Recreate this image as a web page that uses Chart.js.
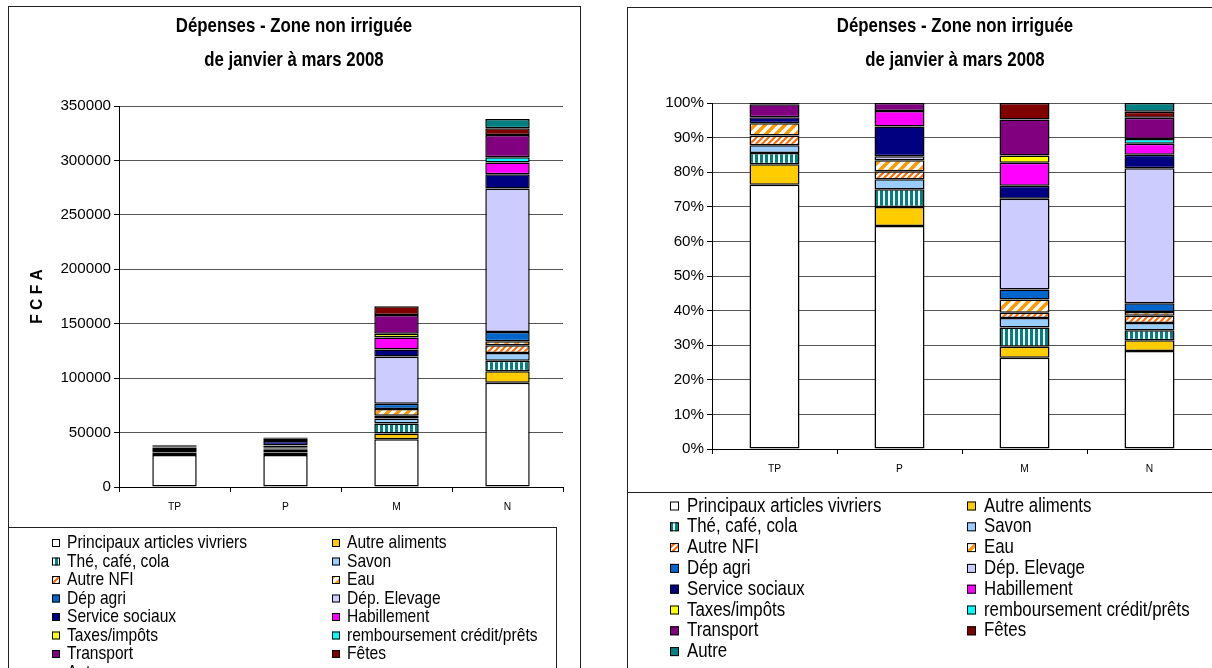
<!DOCTYPE html>
<html>
<head>
<meta charset="utf-8">
<script src="https://cdn.jsdelivr.net/npm/chart.js@4/dist/chart.umd.min.js"></script>
<style>
  html, body { margin: 0; padding: 0; background: #fff; width: 1212px; height: 668px; overflow: hidden; }
  canvas { position: absolute; top: 0; }
  #left { left: 0; }
  #right { left: 600px; }
</style>
</head>
<body>
<canvas id="left" width="600" height="668"></canvas>
<canvas id="right" width="612" height="668"></canvas>
<script>
// data, FCFA
const categories = ['TP', 'P', 'M', 'N'];
const principaux     = [29500, 29300, 43800, 95800];
const autreAliments  = [2270, 2500, 5300, 10460];
const theCafeCola    = [1270, 2320, 9130, 9790];
const savon          = [850, 1320, 4650, 7090];
const autreNFI       = [1080, 1050, 2490, 7090];
const eau            = [1390, 1460, 6310, 3710];
const depAgri        = [0, 0, 4810, 8440];
const depElevage     = [0, 500, 43500, 131800];
const serviceSociaux = [650, 3910, 6310, 13160];
const habillement    = [0, 2050, 10960, 10800];
const taxes          = [0, 0, 3490, 0];
const remboursement  = [0, 0, 0, 4730];
const transport      = [1450, 1050, 17260, 20590];
const fetes          = [150, 0, 7970, 6080];
const autre          = [0, 0, 0, 8440];

const titleLines = ['Dépenses - Zone non irriguée', 'de janvier à mars 2008'];

// font check: narrow face installed?
function hasFont(name) {
  const g = document.createElement('canvas').getContext('2d');
  g.font = '20px monospace';
  const a = g.measureText('Principaux articles vivriers').width;
  g.font = '20px "' + name + '", monospace';
  return g.measureText('Principaux articles vivriers').width !== a;
}
const NARROW = hasFont('Liberation Sans Narrow');
const FAMILY = NARROW ? '"Liberation Sans Narrow"' : '"Liberation Sans"';
const K = NARROW ? 1 : 0.82;

function drawText(ctx, text, x, y, size, bold, align) {
  ctx.save();
  ctx.fillStyle = '#000';
  ctx.textBaseline = 'middle';
  ctx.textAlign = align;
  ctx.translate(x, y);
  if (!NARROW) ctx.scale(0.82, 1);
  ctx.font = (bold ? 'bold ' : '') + size + 'px ' + FAMILY;
  ctx.fillText(text, 0, 0);
  ctx.restore();
}

function stripes(kind, color) {
  const c = document.createElement('canvas');
  const g = c.getContext('2d');
  if (kind === 'vert') {
    c.width = 5; c.height = 5;
    g.fillStyle = '#fff'; g.fillRect(0, 0, 5, 5);
    g.fillStyle = color; g.fillRect(0, 0, 3, 5);
  } else {
    const n = kind === 'fine' ? 6 : 10;
    c.width = n; c.height = n;
    g.fillStyle = '#fff'; g.fillRect(0, 0, n, n);
    g.strokeStyle = color;
    g.lineWidth = kind === 'fine' ? 2 : 3.5;
    g.beginPath();
    g.moveTo(-1, n + 1); g.lineTo(n + 1, -1);
    g.moveTo(-1, 1); g.lineTo(1, -1);
    g.moveTo(n - 1, n + 1); g.lineTo(n + 1, n - 1);
    g.stroke();
  }
  return g.createPattern(c, 'repeat');
}

const series = [
  ['Principaux articles vivriers', principaux, '#ffffff'],
  ['Autre aliments', autreAliments, '#ffcc00'],
  ['Thé, café, cola', theCafeCola, stripes('vert', '#008080')],
  ['Savon', savon, '#99ccff'],
  ['Autre NFI', autreNFI, stripes('fine', '#ff6600')],
  ['Eau', eau, stripes('wide', '#ff9900')],
  ['Dép agri', depAgri, '#0066cc'],
  ['Dép. Elevage', depElevage, '#ccccff'],
  ['Service sociaux', serviceSociaux, '#000080'],
  ['Habillement', habillement, '#ff00ff'],
  ['Taxes/impôts', taxes, '#ffff00'],
  ['remboursement crédit/prêts', remboursement, '#00ffff'],
  ['Transport', transport, '#800080'],
  ['Fêtes', fetes, '#800000'],
  ['Autre', autre, '#008080']
];

const totals = categories.map((_, i) => series.reduce((s, d) => s + d[1][i], 0));

function makeDatasets(pct) {
  return series.map(([label, vals, bg]) => ({
    label,
    data: vals.map((v, i) => v ? (pct ? v / totals[i] * 100 : v) : null),
    backgroundColor: bg,
    borderColor: '#000',
    borderWidth: 1.5,
    borderSkipped: false,
    categoryPercentage: 1,
    barPercentage: 0.4
  }));
}

// frame, title and two-column legend
const panel = {
  id: 'panel',
  afterDraw(chart, args, o) {
    const ctx = chart.ctx;
    ctx.save();
    ctx.strokeStyle = '#222';
    ctx.lineWidth = 1;
    ctx.strokeRect(o.frame[0] + 0.5, o.frame[1] + 0.5, o.frame[2], o.frame[3]);
    ctx.strokeRect(o.legend[0] + 0.5, o.legend[1] + 0.5, o.legend[2], o.legend[3]);
    titleLines.forEach((t, i) => drawText(ctx, t, o.titleX, o.titleY[i], 20.5, true, 'center'));
    chart.data.datasets.forEach((ds, i) => {
      const x = o.colX[i % 2];
      const y = o.rowY + Math.floor(i / 2) * o.rowH;
      ctx.fillStyle = ds.backgroundColor;
      ctx.fillRect(x, y - o.box / 2, o.box, o.box);
      ctx.strokeStyle = '#000';
      ctx.strokeRect(x + 0.5, y - o.box / 2 + 0.5, o.box - 1, o.box - 1);
      drawText(ctx, ds.label, x + o.box + o.gap, y, o.size, false, 'left');
    });
    ctx.restore();
  }
};

function tickFont(size) { return { family: FAMILY, size: size * K }; }

function makeChart(id, pct, p) {
  return new Chart(document.getElementById(id), {
    type: 'bar',
    data: { labels: categories, datasets: makeDatasets(pct) },
    plugins: [panel],
    options: {
      responsive: false,
      animation: false,
      layout: { padding: { left: 20, top: p.top, right: p.right, bottom: 0 } },
      plugins: {
        legend: { display: false },
        tooltip: { enabled: false },
        panel: p.panel
      },
      scales: {
        x: {
          stacked: true,
          grid: { drawOnChartArea: false, tickLength: 5, color: '#000' },
          border: { color: '#000' },
          ticks: { color: '#000', font: tickFont(12.5), padding: p.xPad },
          afterFit: s => { s.height = p.xHeight; }
        },
        y: {
          stacked: true,
          min: 0,
          max: pct ? 100 : 350000,
          ticks: {
            stepSize: pct ? 10 : 50000,
            color: '#000',
            font: tickFont(18.5),
            padding: 3,
            callback: v => pct ? v + '%' : v
          },
          grid: { color: '#555', tickColor: '#000', tickLength: 5 },
          border: { color: '#000' },
          title: {
            display: !pct,
            text: 'F C F A',
            color: '#000',
            font: { family: FAMILY, size: 19 * K, weight: 'bold' },
            padding: { top: 8 }
          },
          afterFit: s => { s.width = p.yWidth; }
        }
      }
    }
  });
}

makeChart('left', false, {
  top: 106, right: 37, xHeight: 181, xPad: 9, yWidth: 99,
  panel: {
    frame: [8, 6, 572, 700], legend: [8, 527, 548, 200],
    titleX: 294, titleY: [26, 60],
    colX: [52, 332], rowY: 543, rowH: 18.5, box: 8, gap: 7, size: 19
  }
});

makeChart('right', true, {
  top: 103, right: 0, xHeight: 219, xPad: 9, yWidth: 92,
  panel: {
    frame: [27, 7, 700, 700], legend: [27, 492, 700, 200],
    titleX: 355, titleY: [26, 60],
    colX: [70, 367], rowY: 506, rowH: 20.8, box: 9, gap: 8, size: 20.5
  }
});
</script>
</body>
</html>
